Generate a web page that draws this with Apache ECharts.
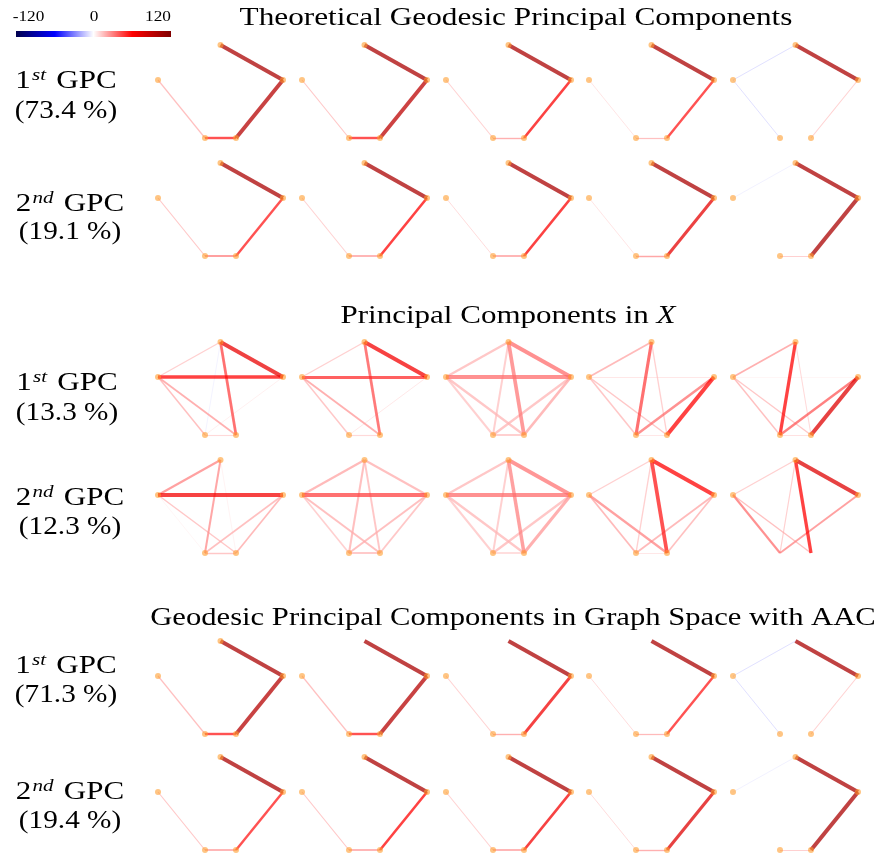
<!DOCTYPE html>
<html>
<head>
<meta charset="utf-8">
<script src="https://cdn.jsdelivr.net/npm/echarts@6/dist/echarts.min.js"></script>
<style>html,body{margin:0;padding:0;background:#fff;}#c{width:878px;height:854px;}</style>
</head>
<body>
<div id="c"></div>
<script>
// ---------------- data ----------------
const titles = ['Theoretical Geodesic Principal Components', 'Principal Components in ', 'Geodesic Principal Components in Graph Space with AAC'];
const titleItalic = 'X';
const ordinals = ['1', '2', '1', '2', '1', '2'];
const ordinalSup = ['st', 'nd', 'st', 'nd', 'st', 'nd'];
const variances = ['73.4', '19.1', '13.3', '12.3', '71.3', '19.4'];
const colorbarTicks = ['-120', '0', '120'];
const colorMin = -120, colorMax = 120;

const nodeNames = ['L', 'T', 'R', 'BL', 'BR'];
const nodeX = [0, 62.5, 125, 47, 78];
const nodeY = [0, 35, 0, -58, -58];
// edge order: L-T, L-R, L-BL, L-BR, T-R, T-BL, T-BR, R-BL, R-BR, BL-BR
const edgePairs = [['L','T'],['L','R'],['L','BL'],['L','BR'],['T','R'],['T','BL'],['T','BR'],['R','BL'],['R','BR'],['BL','BR']];

const theo1 = [
  [0, 0, 20, 0, 100, 0, 0, 0, 95, 55],
  [0, 0, 18, 0, 100, 0, 0, 0, 92, 55],
  [0, 0, 15, 0, 100, 0, 0, 0, 62, 25],
  [0, 0, 10, 0, 100, 0, 0, 0, 55, 20],
  [-11, 0, -11, 0, 100, 0, 0, 0, 15, 0]
];
const theo2 = [
  [0, 0, 18, 0, 100, 0, 0, 0, 55, 35],
  [0, 0, 15, 0, 100, 0, 0, 0, 60, 30],
  [0, 0, 12, 0, 100, 0, 0, 0, 62, 30],
  [0, 0, 10, 0, 100, 0, 0, 0, 72, 28],
  [-6, 0, 0, 0, 100, 0, 0, 0, 100, 15]
];
const pca1 = [
  [15, 60, 20, 25, 70, -5, 45, 6, 0, 12],
  [15, 50, 18, 25, 65, 0, 42, 8, 0, 12],
  [18, 35, 15, 18, 35, 15, 32, 18, 22, 15],
  [22, 8, 18, 18, 0, 45, 15, 35, 60, 8],
  [25, 4, 20, 18, 0, 60, 12, 40, 75, 10]
];
const pca2 = [
  [30, 65, 4, 18, 0, 28, 5, 20, 22, 18],
  [22, 45, 15, 20, 20, 20, 18, 20, 18, 18],
  [18, 35, 15, 18, 33, 15, 30, 18, 25, 12],
  [15, 0, 22, 30, 60, 15, 55, 22, 20, 8],
  [15, 0, 35, 20, 75, 15, 60, 30, 0, 0]
];
const aac1 = [
  [0, 0, 20, 0, 100, 0, 0, 0, 95, 55],
  [0, 0, 20, 0, 100, 0, 0, 0, 95, 55],
  [0, 0, 15, 0, 100, 0, 0, 0, 66, 25],
  [0, 0, 12, 0, 100, 0, 0, 0, 55, 22],
  [-11, 0, -11, 0, 100, 0, 0, 0, 15, 0]
];
const aac2 = [
  [0, 0, 18, 0, 100, 0, 0, 0, 55, 30],
  [0, 0, 18, 0, 100, 0, 0, 0, 60, 30],
  [0, 0, 15, 0, 100, 0, 0, 0, 65, 30],
  [0, 0, 12, 0, 100, 0, 0, 0, 75, 25],
  [-6, 0, 0, 0, 100, 0, 0, 0, 100, 15]
];
const panelRows = [theo1, theo2, pca1, pca2, aac1, aac2];
// nodes drawn without a dot: [row, col, node]
const hiddenNodes = [[3, 4, 'BL'], [3, 4, 'BR'], [4, 1, 'T'], [4, 2, 'T'], [4, 3, 'T'], [4, 4, 'T']];

// ---------------- layout / style ----------------
const colLeft = [158, 302, 446, 589, 733];
const rowTop = [45, 163, 342, 460, 641, 757];
const PW = 125, PH = 93;
const serif = '"Liberation Serif", "DejaVu Serif", serif';

const stops = [[0, [0, 0, 76.5]], [0.25, [0, 0, 255]], [0.5, [255, 255, 255]], [0.75, [255, 0, 0]], [1, [127.5, 0, 0]]];
function seismic(v) {
  let t = (v - colorMin) / (colorMax - colorMin);
  t = Math.max(0, Math.min(1, t));
  for (let i = 0; i < stops.length - 1; i++) {
    const [t0, c0] = stops[i], [t1, c1] = stops[i + 1];
    if (t <= t1) {
      const f = (t - t0) / (t1 - t0);
      const c = c0.map((x, k) => Math.round(x + (c1[k] - x) * f));
      return 'rgb(' + c.join(',') + ')';
    }
  }
  return 'rgb(127,0,0)';
}

const grid = [], xAxis = [], yAxis = [], series = [];
panelRows.forEach((rowVals, r) => {
  rowVals.forEach((vals, c) => {
    const k = grid.length;
    grid.push({ left: colLeft[c], top: rowTop[r], width: PW, height: PH });
    xAxis.push({ gridIndex: k, type: 'value', min: 0, max: 125, show: false });
    yAxis.push({ gridIndex: k, type: 'value', min: -58, max: 35, show: false });
    const maxAbs = Math.max(...vals.map(Math.abs));
    const links = [];
    vals.forEach((v, i) => {
      if (v === 0) return;
      links.push({
        source: edgePairs[i][0], target: edgePairs[i][1], val: v,
        lineStyle: { color: seismic(v), width: 0.5 + 3.5 * Math.abs(v) / maxAbs, opacity: 0.74 }
      });
    });
    links.sort((a, b) => Math.abs(a.val) - Math.abs(b.val));
    const nodes = nodeNames.map((n, i) => {
      const hid = hiddenNodes.some(h => h[0] === r && h[1] === c && h[2] === n);
      return { name: n, value: [nodeX[i], nodeY[i]], itemStyle: { opacity: hid ? 0 : 0.6 } };
    });
    series.push({
      type: 'graph', coordinateSystem: 'cartesian2d', xAxisIndex: k, yAxisIndex: k,
      symbol: 'circle', symbolSize: 6, silent: true, animation: false,
      itemStyle: { color: '#ff9f30' },
      label: { show: false },
      data: nodes,
      links: links.map(l => ({ source: l.source, target: l.target, lineStyle: l.lineStyle }))
    });
  });
});

// texts
const graphic = [];
const titleFont = { fontFamily: serif, fontSize: 25, fill: '#000' };
graphic.push({ type: 'text', x: 516, y: 18, scaleX: 1.25, style: Object.assign({ text: titles[0], align: 'center', verticalAlign: 'middle' }, titleFont) });
graphic.push({ type: 'text', x: 508, y: 316, scaleX: 1.24, style: {
  text: '{n|' + titles[1] + '}{i|' + titleItalic + '}', align: 'center', verticalAlign: 'middle',
  rich: { n: titleFont, i: Object.assign({ fontStyle: 'italic' }, titleFont) } } });
graphic.push({ type: 'text', x: 513, y: 618, scaleX: 1.225, style: Object.assign({ text: titles[2], align: 'center', verticalAlign: 'middle' }, titleFont) });

const line1Y = [81, 204, 383, 498, 666, 792];
const line2Y = [111, 232, 413, 527, 695, 821];
const labelX = [66, 70, 67, 70, 66, 70];
ordinals.forEach((o, r) => {
  graphic.push({ type: 'text', x: labelX[r], y: line1Y[r], scaleX: 1.24, style: {
    text: '{b|' + o + '}{s|' + ordinalSup[r] + '}{b| GPC}', align: 'center', verticalAlign: 'middle',
    rich: {
      b: { fontFamily: serif, fontSize: 25, fill: '#000', lineHeight: 28 },
      s: { fontFamily: serif, fontSize: 17, fontStyle: 'italic', fill: '#000', verticalAlign: 'top', lineHeight: 14, padding: [0, 2, 10, 1] }
    } } });
  graphic.push({ type: 'text', x: labelX[r], y: line2Y[r], scaleX: 1.17, style: {
    text: '(' + variances[r] + ' %)', align: 'center', verticalAlign: 'middle', fontFamily: serif, fontSize: 25, fill: '#000' } });
});

// colorbar
graphic.push({ type: 'rect', shape: { x: 16, y: 31, width: 155, height: 6 }, style: {
  fill: { type: 'linear', x: 0, y: 0, x2: 1, y2: 0, colorStops: stops.map(s => ({ offset: s[0], color: 'rgb(' + s[1].join(',') + ')' })) } } });
const tickX = [28.5, 94, 158];
colorbarTicks.forEach((t, i) => {
  graphic.push({ type: 'text', x: tickX[i], y: 17, scaleX: 1.15, style: { text: t, align: 'center', verticalAlign: 'middle', fontFamily: serif, fontSize: 15, fill: '#000' } });
});

const chart = echarts.init(document.getElementById('c'), null, { renderer: 'canvas' });
chart.setOption({ animation: false, backgroundColor: '#fff', grid, xAxis, yAxis, series, graphic });
</script>
</body>
</html>
